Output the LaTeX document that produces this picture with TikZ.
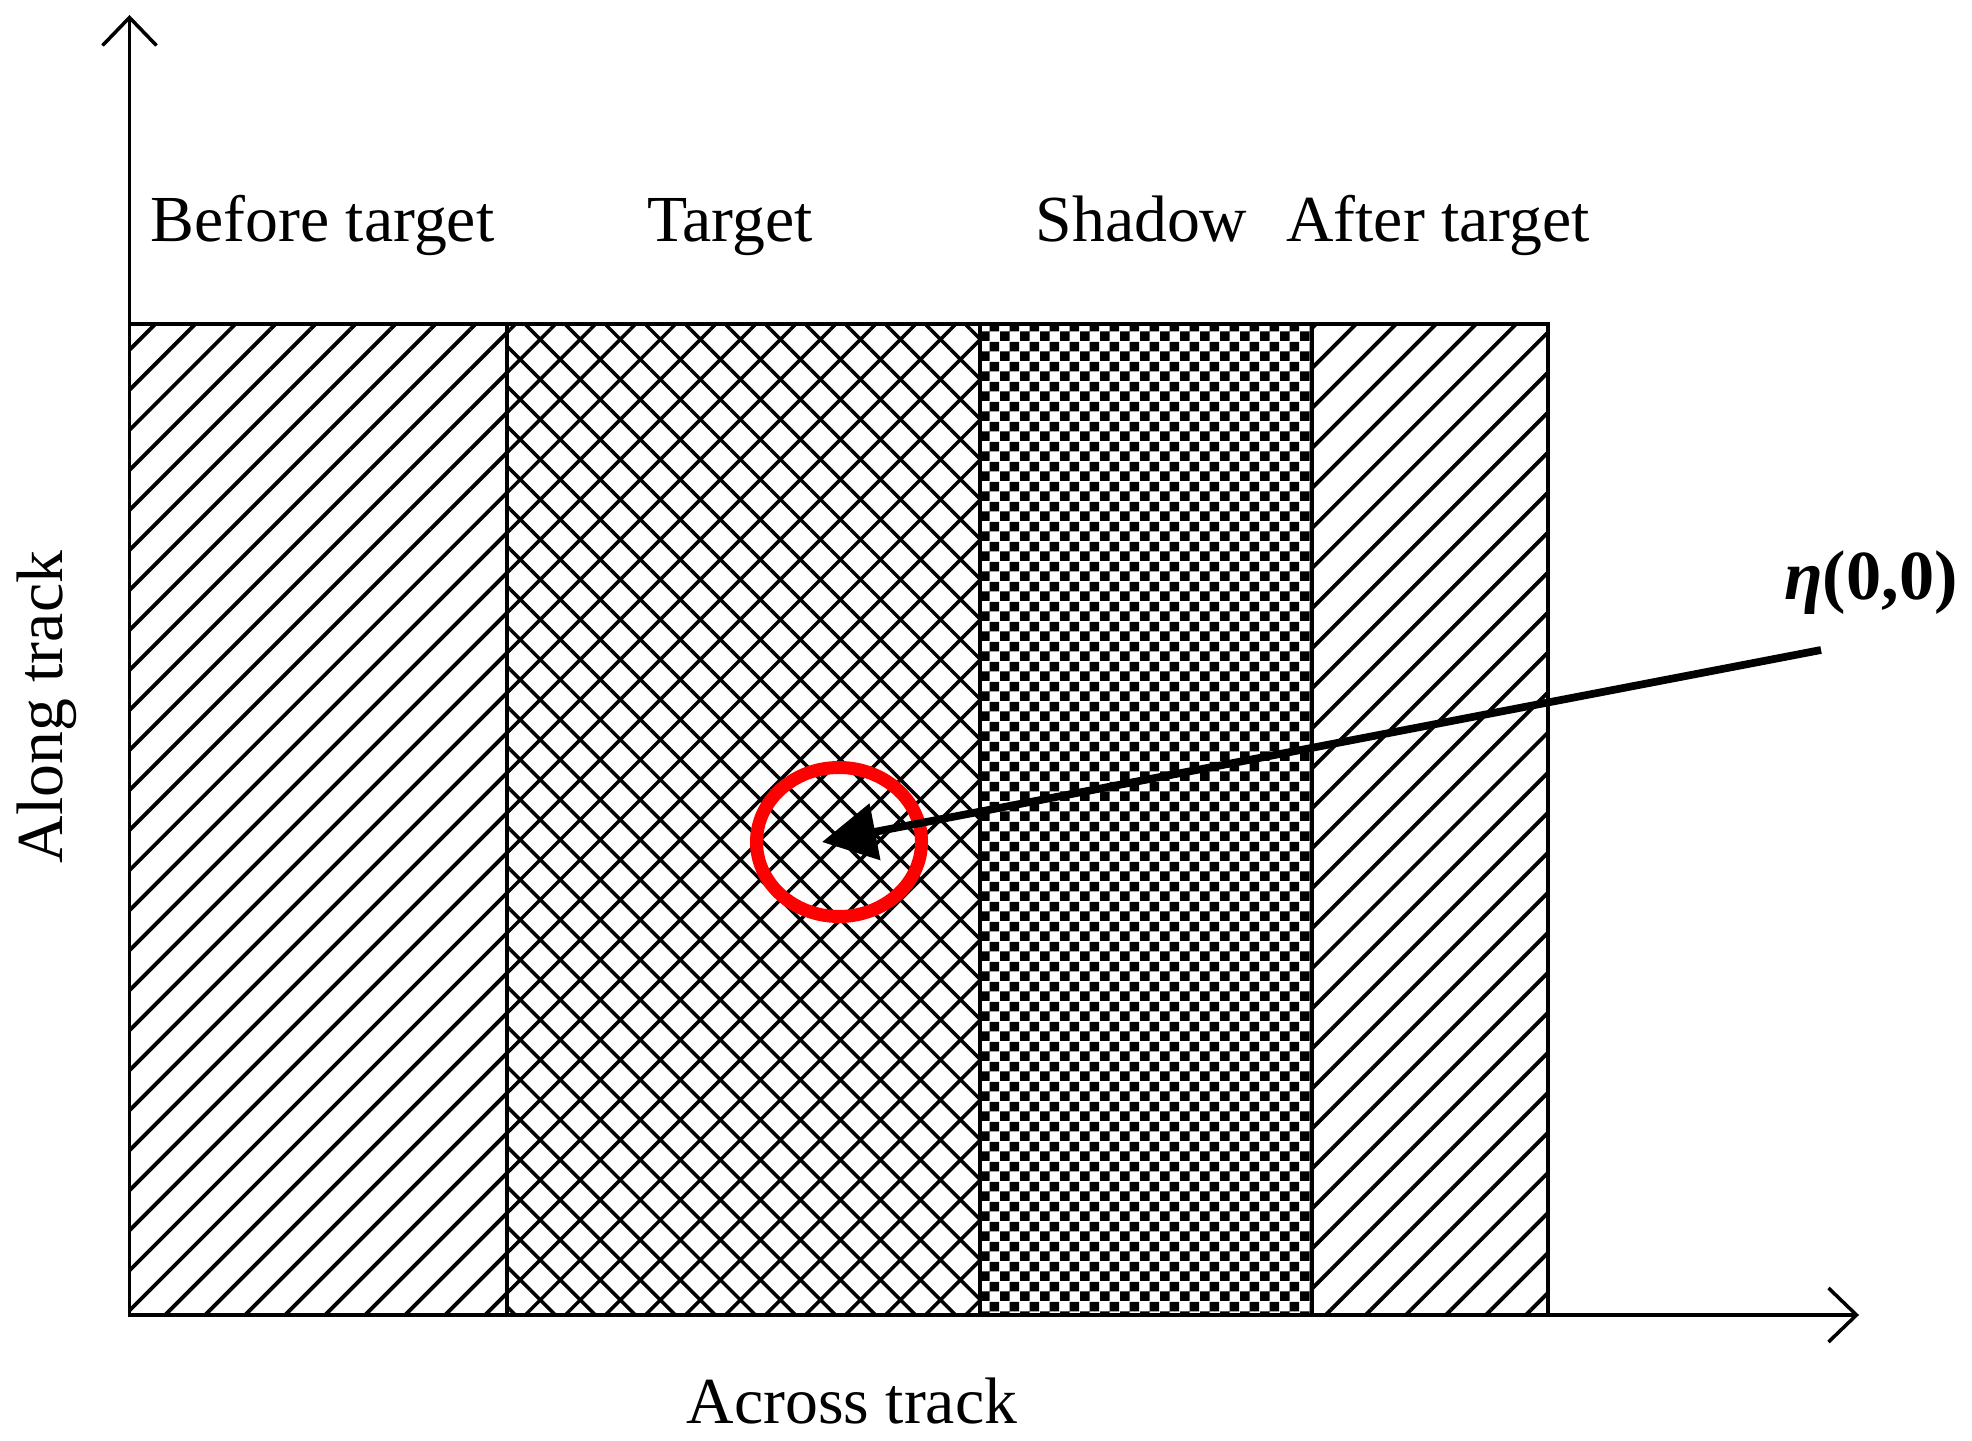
\documentclass[tikz,border=0pt]{standalone}
\usepackage{fontspec}
\setmainfont{Liberation Serif}
\usetikzlibrary{patterns,patterns.meta,arrows.meta,shapes.geometric}

% small black/white squares for the shadow zone
\pgfdeclarepatternformonly{smallchecker}{\pgfqpoint{0cm}{0cm}}{\pgfqpoint{0.2cm}{0.2cm}}{\pgfqpoint{0.2cm}{0.2cm}}{%
  \pgfpathrectangle{\pgfqpoint{0cm}{0cm}}{\pgfqpoint{0.1cm}{0.1cm}}%
  \pgfpathrectangle{\pgfqpoint{0.1cm}{0.1cm}}{\pgfqpoint{0.1cm}{0.1cm}}%
  \pgfusepath{fill}}

\tikzset{
  axis/.style={line width=1pt,-{Straight Barb[length=0.28cm,width=0.54cm]}},
  zone/.style={draw,line width=1pt},
  hatchfill/.style={pattern={Lines[angle=45,distance=0.283cm,line width=1.1pt]}},
  crossfill/.style={pattern={Hatch[angle=45,distance=0.283cm,line width=1pt]}},
  checkfill/.style={pattern=smallchecker},
  zonetext/.style={font=\fontsize{18.7}{22}\selectfont,inner sep=0pt,anchor=base},
}

\begin{document}
\begin{tikzpicture}
\useasboundingbox (0,0) rectangle (19.72,14.40);
\def\yb{1.25}  % bottom of the zones
\def\yt{11.16} % top of the zones

% zones
\foreach \xa/\xb/\sty in {1.295/5.07/hatchfill,5.07/9.80/crossfill,9.80/13.12/checkfill,13.12/15.48/hatchfill}
  \draw[zone,\sty] (\xa,\yb) rectangle (\xb,\yt);

% axes
\coordinate (O) at (1.295,\yb);
\coordinate (ytop) at (1.295,14.25);
\coordinate (xend) at (18.59,\yb);
\draw[axis] (O) -- (ytop);
\draw[axis] (O) -- (xend);

% zone names
\node[zonetext] (before) at (3.225,11.98) {Before target};
\node[zonetext] (target) at (7.30,11.98) {Target};
\node[zonetext] (shadow) at (11.415,11.98) {Shadow};
\node[zonetext] (after) at (14.38,11.98) {After target};

\node[zonetext] (across) at (8.52,0.17) {Across track};
\node[zonetext,rotate=90] (along) at (0.62,7.33) {Along track};

% marked pixel
\node[ellipse,draw=red,line width=3.7pt,minimum width=1.65cm,minimum height=1.49cm,inner sep=0pt] (spot) at (8.39,5.98) {};
\node[zonetext,font=\fontsize{20}{24}\selectfont\bfseries] (eta) at (18.71,8.40) {{\itshape η}(0,0)};
\coordinate (start) at (18.21,7.90);
\coordinate (tip) at (8.22,5.98);
\draw[line width=2.2pt,-{Triangle[length=0.54cm,width=0.56cm]}] (start) -- (tip);
\end{tikzpicture}
\end{document}
